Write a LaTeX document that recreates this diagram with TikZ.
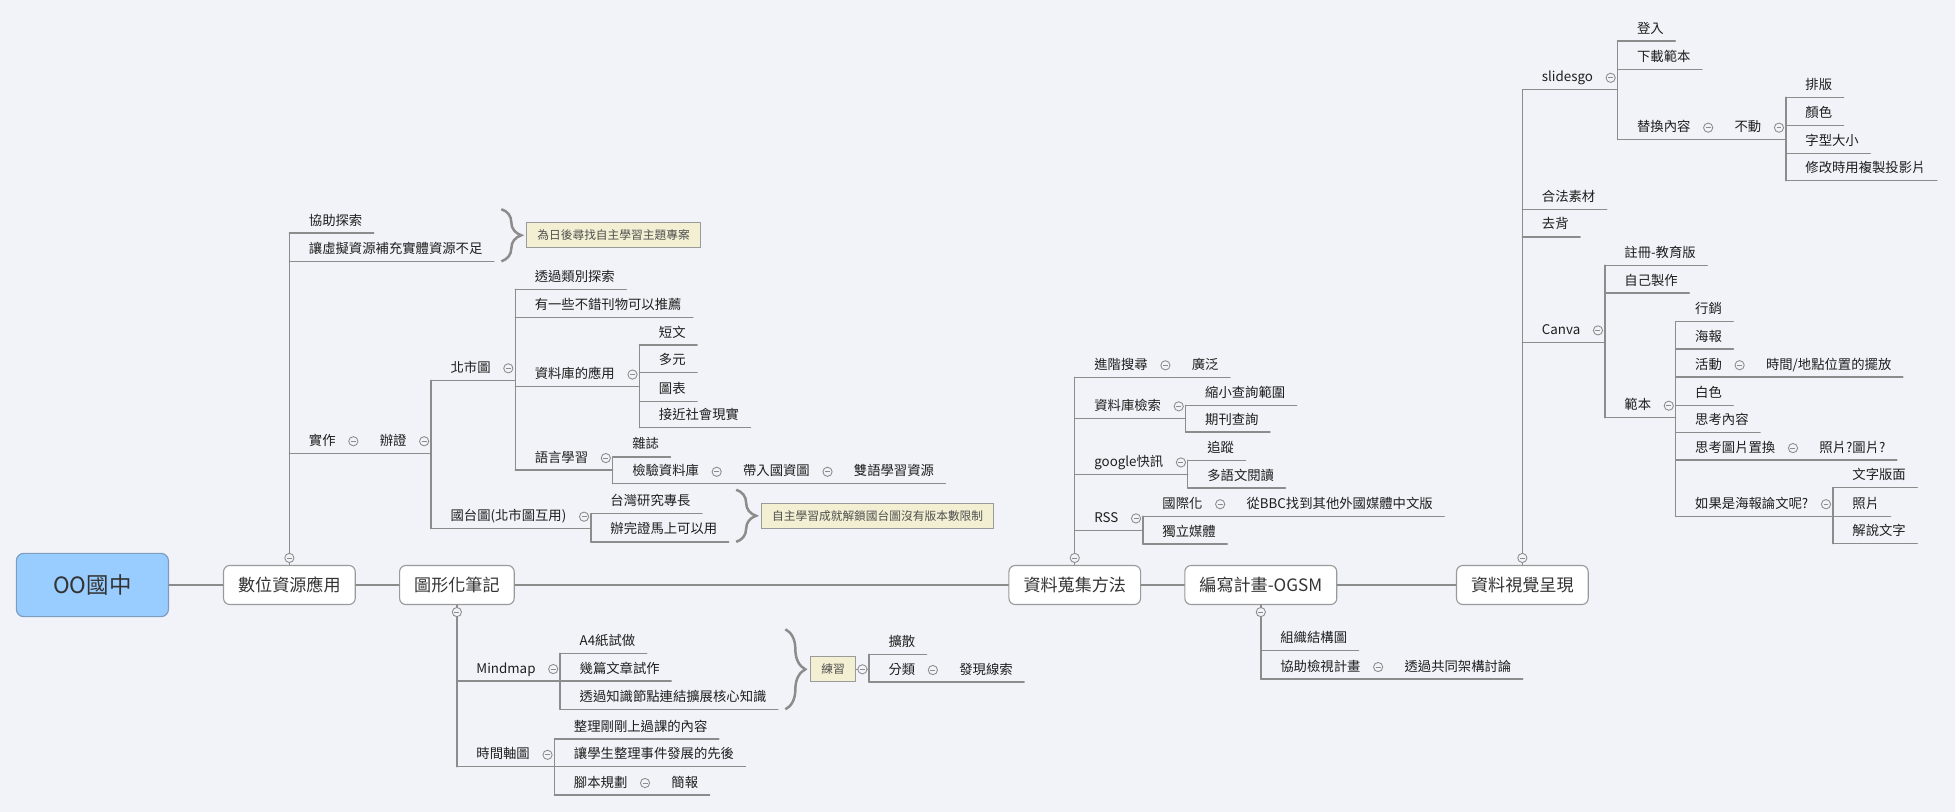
\documentclass[tikz,border=0pt]{standalone}
\usepackage{fontspec}
\setmainfont{Noto Sans CJK TC}
\usetikzlibrary{positioning,calc,decorations.pathreplacing}
\definecolor{paper}{HTML}{F2F3F8}
\definecolor{linegray}{HTML}{8C8C8C}
\definecolor{ink}{HTML}{1E1E1E}
\definecolor{topicink}{HTML}{333333}
\definecolor{rootblue}{HTML}{99CCFF}
\definecolor{rootedge}{HTML}{7C9CC0}
\definecolor{boxedge}{HTML}{9A9A9A}
\definecolor{memofill}{HTML}{F2EFD2}
\definecolor{memoink}{HTML}{505050}

% label with underline, no children
\newcommand{\twig}[4]{%
  \node[lbl, xshift=15.5pt] (#1) at (#2 |- 0,#3) {#4};
  \draw[branch] (#2 |- #1.south) -- ([xshift=9pt]#1.south east);}
% label with underline, fold mark and a line for its children
\newcommand{\bough}[4]{%
  \node[lbl, xshift=15.5pt] (#1) at (#2 |- 0,#3) {#4};
  \coordinate (#1-v) at ([xshift=19.5pt]#1.south east);
  \draw[branch] (#2 |- #1.south) -- (#1-v);
  \node[fold] (#1-m) at ([xshift=14pt]#1.east) {};}
\newcommand{\spine}[3]{\draw[branch] (#1 |- #2.south) -- (#1 |- #3.south);}

\begin{document}
\begin{tikzpicture}[
  x=1pt, y=-1pt,
  branch/.style={draw=linegray, line width=1.1pt, line cap=round},
  lbl/.style={anchor=south west, inner xsep=0pt, inner ysep=4pt, text height=8.6pt, text depth=2.2pt, text=ink, font=\fontsize{10.7}{12}\selectfont},
  rootbox/.style={rectangle, rounded corners=6pt, draw=rootedge, fill=rootblue, line width=0.9pt, minimum width=122pt, minimum height=50.8pt, text=topicink, font=\fontsize{18}{21}\selectfont},
  topicbox/.style={rectangle, rounded corners=5pt, draw=boxedge, fill=white, line width=0.9pt, inner xsep=11.7pt, minimum height=31.3pt, text=topicink, font=\fontsize{13.7}{16}\selectfont},
  memo/.style={rectangle, draw=boxedge, fill=memofill, line width=0.8pt, inner xsep=8.5pt, minimum height=20pt, text=memoink, font=\fontsize{9.4}{11}\selectfont},
  curly/.style={draw=linegray, line width=2pt, decorate, decoration={brace, amplitude=16pt}},
  fold/.style={circle, draw=linegray, fill=paper, line width=0.7pt, minimum size=7.4pt, inner sep=0pt,
    path picture={\draw[linegray, line width=0.7pt] ([xshift=-2pt]path picture bounding box.center) -- ([xshift=2pt]path picture bounding box.center);}}
]
  \fill[paper] (0,0) rectangle (1568,651);
  \useasboundingbox (0,0) rectangle (1568,651);

  \node[rootbox] (root) at (74.1,469.2) {OO國中};
  \node[topicbox, right=43.3pt of root] (T1) {數位資源應用};
  \node[topicbox, right=34.7pt of T1] (T2) {圖形化筆記};
  \node[topicbox] (T3) at (862,469.2) {資料蒐集方法};
  \node[topicbox, right=34.6pt of T3] (T4) {編寫計畫-OGSM};
  \node[topicbox] (T5) at (1221,469.2) {資料視覺呈現};
  \draw[branch] (root) -- (T1) -- (T2) -- (T3) -- (T4) -- (T5);

  % 數位資源應用
  \twig{a1}{T1}{187}{協助探索}
  \twig{a2}{T1}{209.6}{讓虛擬資源補充實體資源不足}
  \bough{a3}{T1}{363.5}{實作}
  \bough{a4}{a3-v}{363.5}{辦證}
  \bough{b1}{a4-v}{305}{北市圖}
  \twig{c1}{b1-v}{232}{透過類別探索}
  \twig{c2}{b1-v}{254.5}{有一些不錯刊物可以推薦}
  \bough{c3}{b1-v}{310}{資料庫的應用}
  \twig{d1}{c3-v}{276.7}{短文}
  \twig{d2}{c3-v}{299}{多元}
  \twig{d3}{c3-v}{321.8}{圖表}
  \twig{d4}{c3-v}{343}{接近社會現實}
  \spine{c3-v}{d1}{d4}
  \bough{c4}{b1-v}{377}{語言學習}
  \twig{d5}{c4-v}{366.5}{雜誌}
  \bough{d6}{c4-v}{388}{檢驗資料庫}
  \bough{d7}{d6-v}{388}{帶入國資圖}
  \twig{d8}{d7-v}{388}{雙語學習資源}
  \spine{c4-v}{d5}{d6}
  \spine{b1-v}{c1}{c4}
  \bough{b2}{a4-v}{424}{國台圖(北市圖互用)}
  \twig{c5}{b2-v}{412}{台灣研究專長}
  \twig{c6}{b2-v}{434.6}{辦完證馬上可以用}
  \spine{b2-v}{c5}{c6}
  \spine{a4-v}{b1}{b2}
  \draw[branch] (T1.north) -- (T1 |- a1.south);
  \node[fold] (T1-m) at ([yshift=5.6pt]T1.north) {};
  \coordinate (br1) at ([xshift=15pt]a2.south east);
  \draw[curly] (br1 |- a1.north) -- (br1 |- a2.south);
  \node[memo, anchor=west, xshift=20pt] (memo1) at ($(br1 |- a1.north)!0.5!(br1 |- a2.south)$) {為日後尋找自主學習主題專案};
  \coordinate (br2) at ([xshift=15pt]c6.south east);
  \draw[curly] (br2 |- c5.north) -- (br2 |- c6.south);
  \node[memo, anchor=west, xshift=20pt] (memo2) at ($(br2 |- c5.north)!0.5!(br2 |- c6.south)$) {自主學習成就解鎖國台圖沒有版本數限制};

  % 圖形化筆記
  \bough{e1}{T2}{546.2}{Mindmap}
  \twig{f1}{e1-v}{523.9}{A4紙試做}
  \twig{f2}{e1-v}{546.2}{幾篇文章試作}
  \twig{f3}{e1-v}{568.9}{透過知識節點連結擴展核心知識}
  \spine{e1-v}{f1}{f3}
  \bough{e2}{T2}{615}{時間軸圖}
  \twig{f4}{e2-v}{592.7}{整理剛剛上過課的內容}
  \twig{f5}{e2-v}{615}{讓學生整理事件發展的先後}
  \bough{f6}{e2-v}{637.6}{腳本規劃}
  \twig{f7}{f6-v}{637.6}{簡報}
  \spine{e2-v}{f4}{f6}
  \draw[branch] (T2.south) -- (T2 |- e2.south);
  \node[fold] (T2-m) at ([yshift=-5.6pt]T2.south) {};
  \coordinate (br3) at ([xshift=15pt]f3.south east);
  \draw[curly] (br3 |- f1.north) -- (br3 |- f3.south);
  \node[memo, anchor=west, xshift=20pt] (ex) at ($(br3 |- f1.north)!0.5!(br3 |- f3.south)$) {練習};
  \coordinate (ex-v) at ([xshift=10.4pt]ex.east);
  \draw[branch] (ex.east) -- (ex-v);
  \twig{g1}{ex-v}{524.8}{擴散}
  \bough{g2}{ex-v}{547}{分類}
  \twig{g3}{g2-v}{547}{發現線索}
  \spine{ex-v}{g1}{g2}
  \node[fold] (ex-m) at ([xshift=5.2pt]ex.east) {};

  % 資料蒐集方法
  \bough{h1}{T3}{302.6}{進階搜尋}
  \twig{h1a}{h1-v}{302.6}{廣泛}
  \bough{h2}{T3}{335.5}{資料庫檢索}
  \twig{h2a}{h2-v}{325}{縮小查詢範圍}
  \twig{h2b}{h2-v}{346.5}{期刊查詢}
  \spine{h2-v}{h2a}{h2b}
  \bough{h3}{T3}{380.5}{google快訊}
  \twig{h3a}{h3-v}{369.2}{追蹤}
  \twig{h3b}{h3-v}{391.4}{多語文閱讀}
  \spine{h3-v}{h3a}{h3b}
  \bough{h4}{T3}{425.4}{RSS}
  \bough{h4a}{h4-v}{414}{國際化}
  \twig{h4b}{h4a-v}{414}{從BBC找到其他外國媒體中文版}
  \twig{h4c}{h4-v}{436.3}{獨立媒體}
  \spine{h4-v}{h4a}{h4c}
  \draw[branch] (T3.north) -- (T3 |- h1.south);
  \node[fold] (T3-m) at ([yshift=5.6pt]T3.north) {};

  % 編寫計畫-OGSM
  \twig{i1}{T4}{521.9}{組織結構圖}
  \bough{i2}{T4}{544.6}{協助檢視計畫}
  \twig{i3}{i2-v}{544.6}{透過共同架構討論}
  \draw[branch] (T4.south) -- (T4 |- i2.south);
  \node[fold] (T4-m) at ([yshift=-5.6pt]T4.south) {};

  % 資料視覺呈現
  \bough{j1}{T5}{72}{slidesgo}
  \twig{k1}{j1-v}{33}{登入}
  \twig{k2}{j1-v}{55.6}{下載範本}
  \bough{k3}{j1-v}{112}{替換內容}
  \bough{k4}{k3-v}{112}{不動}
  \twig{l1}{k4-v}{78}{排版}
  \twig{l2}{k4-v}{100.5}{顏色}
  \twig{l3}{k4-v}{123}{字型大小}
  \twig{l4}{k4-v}{145}{修改時用複製投影片}
  \spine{k4-v}{l1}{l4}
  \spine{j1-v}{k1}{k3}
  \twig{j2}{T5}{168}{合法素材}
  \twig{j3}{T5}{190}{去背}
  \bough{j4}{T5}{274.6}{Canva}
  \twig{k5}{j4-v}{212.7}{註冊-教育版}
  \twig{k6}{j4-v}{235}{自己製作}
  \bough{k7}{j4-v}{335}{範本}
  \twig{m1}{k7-v}{258}{行銷}
  \twig{m2}{k7-v}{280}{海報}
  \bough{m3}{k7-v}{302.5}{活動}
  \twig{m3a}{m3-v}{302.5}{時間/地點位置的擺放}
  \twig{m4}{k7-v}{325}{白色}
  \twig{m5}{k7-v}{346.7}{思考內容}
  \bough{m6}{k7-v}{369}{思考圖片置換}
  \twig{m6a}{m6-v}{369}{照片?圖片?}
  \bough{m7}{k7-v}{414}{如果是海報論文呢?}
  \twig{p1}{m7-v}{391}{文字版面}
  \twig{p2}{m7-v}{414}{照片}
  \twig{p3}{m7-v}{436}{解說文字}
  \spine{m7-v}{p1}{p3}
  \spine{k7-v}{m1}{m7}
  \spine{j4-v}{k5}{k7}
  \draw[branch] (T5.north) -- (T5 |- j1.south);
  \node[fold] (T5-m) at ([yshift=5.6pt]T5.north) {};
\end{tikzpicture}
\end{document}
